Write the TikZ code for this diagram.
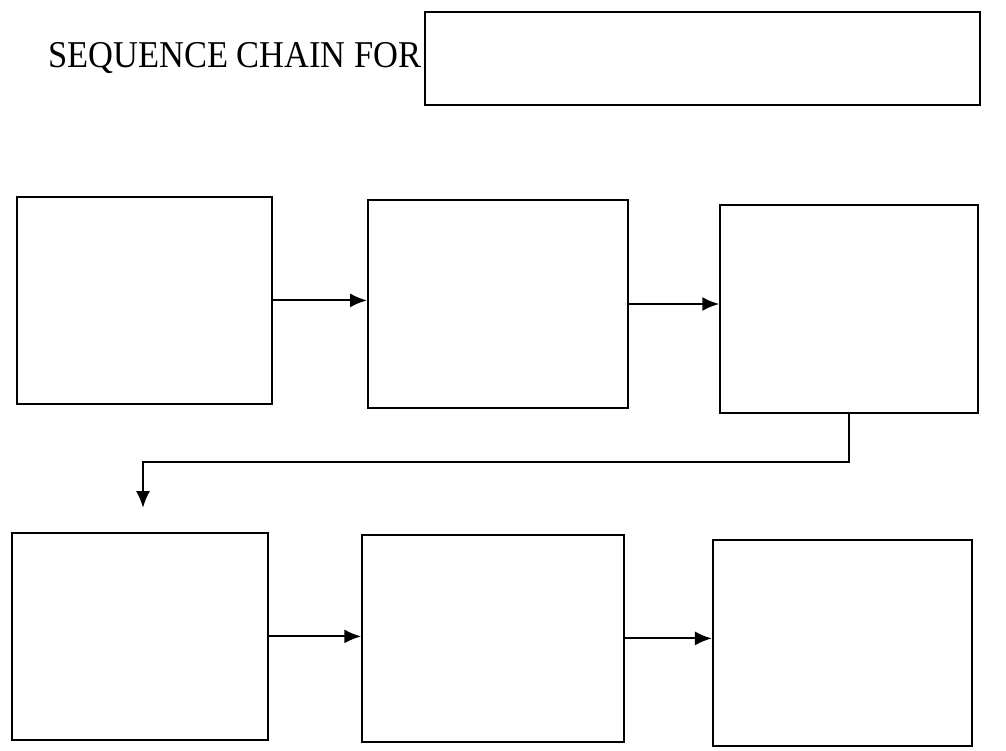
\documentclass[tikz,border=0pt]{standalone}
\usepackage{fontspec}
\setmainfont{Liberation Serif}
\usetikzlibrary{arrows.meta}

\begin{document}
\begin{tikzpicture}[>={Latex[length=12pt,width=10pt]},
  chainbox/.style={draw,line width=1.5pt,inner sep=0pt},
  link/.style={->,line width=1.5pt}]
\useasboundingbox (0,0) rectangle (25.15,18.75);
\node[anchor=base west,inner sep=0pt,yscale=1.1] (T) at (1.2,17.05) {\fontsize{24.5}{29}\selectfont SEQUENCE CHAIN FOR};
\node[chainbox,minimum width=13.875cm,minimum height=2.325cm] (TB) at (17.56,17.29) {};
\node[chainbox,minimum width=6.375cm,minimum height=5.175cm] (B1) at (3.61,11.24) {};
\node[chainbox,minimum width=6.5cm,minimum height=5.2cm] (B2) at (12.45,11.15) {};
\node[chainbox,minimum width=6.45cm,minimum height=5.2cm] (B3) at (21.23,11.03) {};
\node[chainbox,minimum width=6.4cm,minimum height=5.175cm] (B4) at (3.5,2.84) {};
\node[chainbox,minimum width=6.55cm,minimum height=5.175cm] (B5) at (12.33,2.79) {};
\node[chainbox,minimum width=6.475cm,minimum height=5.15cm] (B6) at (21.06,2.68) {};
\coordinate (drop) at (3.575,6.05);
\draw[link] (B1.east) -- (B1.east -| B2.west);
\draw[link] (B2.east) -- (B2.east -| B3.west);
\draw[link] (B3.south) -- ++(0,-1.2) -| (drop);
\draw[link] (B4.east) -- (B4.east -| B5.west);
\draw[link] (B5.east) -- (B5.east -| B6.west);
\end{tikzpicture}
\end{document}
